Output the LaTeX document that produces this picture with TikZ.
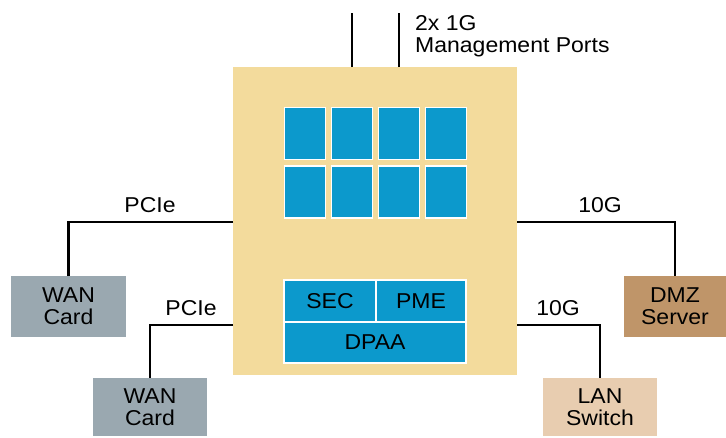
\documentclass[tikz,border=0pt]{standalone}
\usepackage{fontspec}
\setmainfont{Liberation Sans}[FakeStretch=1.07]
\definecolor{chipc}{HTML}{F3DB9C}
\definecolor{corec}{HTML}{0C99CC}
\definecolor{wanc}{HTML}{9AA8B0}
\definecolor{dmzc}{HTML}{BF9569}
\definecolor{lanc}{HTML}{E8CDB0}
\begin{document}
\begin{tikzpicture}[x=1pt,y=-1pt,
  txt/.style={font=\fontsize{21.5}{22}\selectfont, text=black},
  wire/.style={draw=black, line width=2.2pt},
  blk/.style={rectangle, inner sep=0pt, outer sep=0pt, align=center, txt},
  core/.style={blk, fill=corec, draw=white, line width=1.6pt},
  lbl/.style={inner sep=0pt, txt}]
\path[use as bounding box] (0,0) rectangle (726,437);
\node[blk, fill=chipc, minimum width=284pt, minimum height=308pt] (chip) at (375,221) {};
% cores
\foreach \i/\x in {1/305,2/352,3/399,4/446}{
  \node[core, minimum width=41pt, minimum height=52pt] (ca\i) at (\x,133.5) {};
  \node[core, minimum width=41pt, minimum height=52pt] (cb\i) at (\x,192) {};
}
\node[core, minimum width=92pt, minimum height=42pt] (sec) at (330,301) {SEC};
\node[core, minimum width=90pt, minimum height=42pt] (pme) at (421,301) {PME};
\node[core, minimum width=182pt, minimum height=41pt] (dpaa) at (375,342.5) {DPAA};
% peripherals
\node[blk, fill=wanc, minimum width=115pt, minimum height=61pt] (wan1) at (68.5,306.5) {WAN\\Card};
\node[blk, fill=wanc, minimum width=114pt, minimum height=58pt] (wan2) at (150,407) {WAN\\Card};
\node[blk, fill=dmzc, minimum width=102pt, minimum height=61pt] (dmz) at (675,306.5) {DMZ\\Server};
\node[blk, fill=lanc, minimum width=114pt, minimum height=58pt] (lan) at (600,407) {LAN\\Switch};
% connectors
\coordinate (yA) at (0,222);
\coordinate (yB) at (0,325);
\coordinate (m1) at (352,13);
\coordinate (m2) at (399,13);
\draw[wire] (chip.west |- yA) -| (wan1.north);
\draw[wire] (chip.west |- yB) -| (wan2.north);
\draw[wire] (chip.east |- yA) -| (dmz.north);
\draw[wire] (chip.east |- yB) -| (lan.north);
\draw[wire] (chip.north -| m1) -- (m1);
\draw[wire] (chip.north -| m2) -- (m2);
% labels
\node[lbl, anchor=base] (l1) at (150,212) {PCIe};
\node[lbl, anchor=base] (l2) at (191,315) {PCIe};
\node[lbl, anchor=base] (l3) at (600,212) {10G};
\node[lbl, anchor=base] (l4) at (558,315) {10G};
\node[lbl, anchor=base west] (mg1) at (415,30) {2x 1G};
\node[lbl, anchor=base west] (mg2) at (415,52) {Management Ports};
\end{tikzpicture}
\end{document}
